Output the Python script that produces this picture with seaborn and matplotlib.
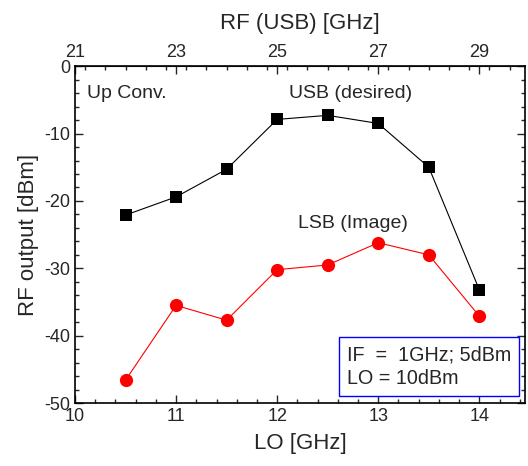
import numpy as np
import pandas as pd
import seaborn as sns
from matplotlib import pyplot as plt
from matplotlib.ticker import MultipleLocator

# LO frequency sweep [GHz]
lo_ghz = [10.5, 11.0, 11.5, 12.0, 12.5, 13.0, 13.5, 14.0]
# RF output [dBm]
usb_dbm = [-22.1, -19.4, -15.3, -7.9, -7.3, -8.5, -15.0, -33.2]
lsb_dbm = [-46.6, -35.5, -37.7, -30.2, -29.5, -26.2, -28.0, -37.1]

top_ticks = [21, 23, 25, 27, 29]

sns.set_style("ticks")
plt.rcParams['font.family'] = ['Liberation Sans', 'DejaVu Sans']
plt.rcParams['axes.unicode_minus'] = False

fig = plt.figure(figsize=(5.28, 4.66), dpi=100)
ax = fig.add_axes([0.142, 0.135, 0.852, 0.723])

df = pd.DataFrame({'lo': lo_ghz, 'usb': usb_dbm, 'lsb': lsb_dbm})
sns.lineplot(data=df, x='lo', y='usb', ax=ax, color='black', marker='s',
             markersize=8.5, markeredgewidth=0, linewidth=0.8)
sns.lineplot(data=df, x='lo', y='lsb', ax=ax, color='red', marker='o',
             markersize=9.5, markeredgewidth=0, linewidth=0.8)

ax.set_xlim(10, 14.45)
ax.set_ylim(-50, 0)
ax.xaxis.set_major_locator(MultipleLocator(1))
ax.xaxis.set_minor_locator(MultipleLocator(0.2))
ax.yaxis.set_major_locator(MultipleLocator(10))
ax.yaxis.set_minor_locator(MultipleLocator(2))
ax.tick_params(which='both', direction='in', right=True, labelsize=13, width=1)
ax.tick_params(which='major', length=6)
ax.tick_params(which='minor', length=3)
for s in ax.spines.values():
    s.set_linewidth(1.2)
    s.set_color('black')

ax.set_xlabel('LO [GHz]', fontsize=16, labelpad=6)
ax.set_ylabel('RF output [dBm]', fontsize=16, labelpad=4)

# top axis: RF (USB) = 2*LO + 1
top = ax.secondary_xaxis('top', functions=(lambda x: 2 * x + 1, lambda r: (r - 1) / 2))
top.set_xticks(top_ticks)
top.xaxis.set_minor_locator(MultipleLocator(0.4))
top.tick_params(which='both', direction='in', labelsize=13, width=1)
top.tick_params(which='major', length=6)
top.tick_params(which='minor', length=3)
top.set_xlabel('RF (USB) [GHz]', fontsize=16, labelpad=11)

ax.text(10.12, -4.0, 'Up Conv.', fontsize=14, ha='left', va='center')
ax.text(12.73, -4.0, 'USB (desired)', fontsize=14, ha='center', va='center')
ax.text(12.75, -23.3, 'LSB (Image)', fontsize=14, ha='center', va='center')
ax.text(12.69, -44.6, 'IF  =  1GHz; 5dBm\nLO = 10dBm', fontsize=14.2, ha='left',
        va='center', linespacing=1.35,
        bbox=dict(boxstyle='square,pad=0.4', fc='white', ec='blue', lw=1))

plt.savefig('out.png', dpi=100)
